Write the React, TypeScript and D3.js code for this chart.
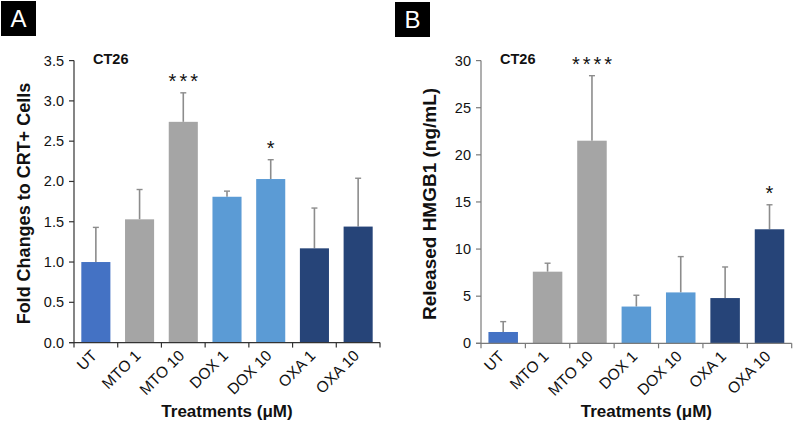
import React from "react";
import * as d3 from "d3";

const categories = ["UT", "MTO 1", "MTO 10", "DOX 1", "DOX 10", "OXA 1", "OXA 10"];
const groupOf = ["UT", "MTO", "MTO", "DOX", "DOX", "OXA", "OXA"];
const crtMean = [1.0, 1.53, 2.74, 1.81, 2.03, 1.17, 1.44];
const crtUpper = [1.43, 1.9, 3.1, 1.88, 2.27, 1.67, 2.04];
const crtStars = ["", "", "***", "", "*", "", ""];
const crtTicks = [0, 0.5, 1.0, 1.5, 2.0, 2.5, 3.0, 3.5];
const hmgbMean = [1.2, 7.6, 21.5, 3.9, 5.4, 4.8, 12.1];
const hmgbUpper = [2.3, 8.5, 28.4, 5.1, 9.2, 8.1, 14.7];
const hmgbStars = ["", "", "****", "", "", "", "*"];
const hmgbTicks = [0, 5, 10, 15, 20, 25, 30];

const colors: Record<string, string> = {
  UT: "#4472C4",
  MTO: "#A5A5A5",
  DOX: "#5B9BD5",
  OXA: "#264478",
};

const FONT = "'Liberation Sans', Arial, Helvetica, sans-serif";

type PanelProps = {
  letter: string;
  boxX: number;
  boxY: number;
  x0: number;
  x1: number;
  yBottom: number;
  yTop: number;
  domainMax: number;
  ticks: number[];
  fmt: (v: number) => string;
  means: number[];
  uppers: number[];
  stars: string[];
  yLabel: string;
  yLabelX: number;
  yLabelSize: number;
  axisColor: string;
};

function Panel(p: PanelProps) {
  const x = d3.scaleBand<string>().domain(categories).range([p.x0, p.x1]).paddingInner(0.335).paddingOuter(0.1675);
  const y = d3.scaleLinear().domain([0, p.domainMax]).range([p.yBottom, p.yTop]);
  const step = x.step();
  const bw = x.bandwidth();
  const boundaries = d3.range(categories.length + 1).map((i) => p.x0 + i * step);
  const midY = (p.yBottom + p.yTop) / 2;
  return (
    <g>
      <rect x={p.boxX} y={p.boxY} width={35} height={35} fill="#000" />
      <text x={p.boxX + 17.5} y={p.boxY + 26} fill="#fff" fontSize={24} textAnchor="middle" fontFamily={FONT}>
        {p.letter}
      </text>
      {categories.map((c, i) => {
        const bx = x(c)!;
        const cx = bx + bw / 2;
        return (
          <g key={c}>
            <line x1={cx} x2={cx} y1={y(p.means[i])} y2={y(p.uppers[i])} stroke="#8C8C8C" strokeWidth={1.6} />
            <line x1={cx - 3} x2={cx + 3} y1={y(p.uppers[i])} y2={y(p.uppers[i])} stroke="#8C8C8C" strokeWidth={1.4} />
            <rect x={bx} y={y(p.means[i])} width={bw} height={p.yBottom - y(p.means[i])} fill={colors[groupOf[i]]} />
            {p.stars[i] && (
              <text
                x={cx + 1.5}
                y={y(p.uppers[i]) - 5}
                textAnchor="middle"
                fontSize={20}
                letterSpacing={3}
                fontFamily={FONT}
                fill="#111"
              >
                {p.stars[i]}
              </text>
            )}
            <text
              transform={`translate(${cx + 2},${p.yBottom + 14}) rotate(-45)`}
              textAnchor="end"
              fontSize={15.5}
              fontFamily={FONT}
              fill="#111"
            >
              {c}
            </text>
          </g>
        );
      })}
      <line x1={p.x0} x2={p.x0} y1={p.yTop} y2={p.yBottom} stroke={p.axisColor} strokeWidth={1.2} />
      <line x1={p.x0 - 5} x2={p.x1} y1={p.yBottom} y2={p.yBottom} stroke={p.axisColor} strokeWidth={1.2} />
      {p.ticks.map((t) => (
        <g key={t}>
          <line x1={p.x0 - 5} x2={p.x0} y1={y(t)} y2={y(t)} stroke={p.axisColor} strokeWidth={1.2} />
          <text x={p.x0 - 10} y={y(t) + 5} textAnchor="end" fontSize={14.5} fontFamily={FONT} fill="#111">
            {p.fmt(t)}
          </text>
        </g>
      ))}
      {boundaries.map((bxv, i) => (
        <line key={i} x1={bxv} x2={bxv} y1={p.yBottom} y2={p.yBottom + 5} stroke={p.axisColor} strokeWidth={1.2} />
      ))}
      <text x={p.x0 + 19} y={64} fontSize={14.5} fontWeight="bold" fontFamily={FONT} fill="#111">
        CT26
      </text>
      <text
        transform={`translate(${p.yLabelX},${midY + 2}) rotate(-90)`}
        textAnchor="middle"
        fontSize={p.yLabelSize}
        fontWeight="bold"
        fontFamily={FONT}
        fill="#111"
      >
        {p.yLabel}
      </text>
      <text x={(p.x0 + p.x1) / 2 + (p.letter === "B" ? 10 : 0)} y={417} textAnchor="middle" fontSize={17} fontWeight="bold" fontFamily={FONT} fill="#111">
        Treatments (μM)
      </text>
    </g>
  );
}

export default function App() {
  return (
    <svg width={794} height={426} style={{ position: "absolute", left: 0, top: 0, background: "#fff" }}>
      <rect x={0} y={0} width={794} height={426} fill="#fff" />
      <Panel
        letter="A"
        boxX={1}
        boxY={1}
        x0={74}
        x1={380}
        yBottom={342.6}
        yTop={60.6}
        domainMax={3.5}
        ticks={crtTicks}
        fmt={(v) => d3.format(".1f")(v)}
        means={crtMean}
        uppers={crtUpper}
        stars={crtStars}
        yLabel="Fold Changes to CRT+ Cells"
        yLabelX={30}
        yLabelSize={18}
        axisColor="#333"
      />
      <Panel
        letter="B"
        boxX={395}
        boxY={2}
        x0={481}
        x1={791.7}
        yBottom={343.3}
        yTop={60.6}
        domainMax={30}
        ticks={hmgbTicks}
        fmt={(v) => String(v)}
        means={hmgbMean}
        uppers={hmgbUpper}
        stars={hmgbStars}
        yLabel="Released HMGB1 (ng/mL)"
        yLabelX={435.5}
        yLabelSize={19}
        axisColor="#7a7a7a"
      />
    </svg>
  );
}
